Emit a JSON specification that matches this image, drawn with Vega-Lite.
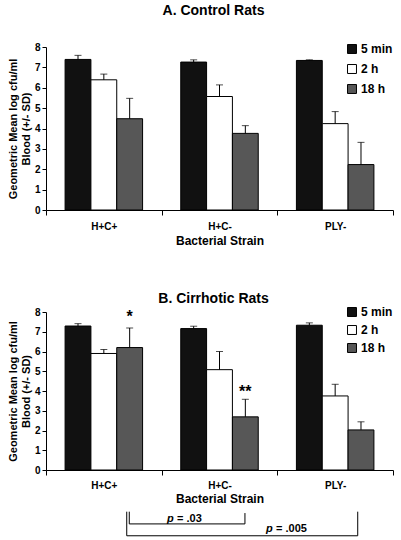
{
  "$schema": "https://vega.github.io/schema/vega-lite/v6.json",
  "padding": {"left": 7, "top": 4, "right": 4, "bottom": 3},
  "config": {
    "font": "Liberation Sans",
    "view": {"stroke": null},
    "axis": {"labelFont": "Liberation Sans", "labelFontWeight": "bold", "labelColor": "black", "titleColor": "black", "domainColor": "black", "tickColor": "black", "grid": false, "titleFont": "Liberation Sans", "titleFontWeight": "bold"},
    "axisY": {"labelOverlap": false, "tickCount": 12, "format": "d", "labelFontSize": 10, "tickSize": 4, "labelPadding": 2, "titleFontSize": 11, "titleLineHeight": 13, "titlePadding": 3},
    "title": {"font": "Liberation Sans", "fontWeight": "bold", "color": "black", "fontSize": 14},
    "legend": {"labelFont": "Liberation Sans", "labelFontWeight": "bold", "labelFontSize": 12, "labelColor": "black", "symbolType": "square", "symbolSize": 80, "symbolStrokeColor": "black", "symbolStrokeWidth": 1, "labelOffset": 3}
  },
  "datasets": {
    "bars": [
      {"panel": "A", "strain": "H+C+", "time": "5 min", "mean": 7.39, "upper": 7.59},
      {"panel": "A", "strain": "H+C+", "time": "2 h", "mean": 6.39, "upper": 6.67},
      {"panel": "A", "strain": "H+C+", "time": "18 h", "mean": 4.48, "upper": 5.48},
      {"panel": "A", "strain": "H+C-", "time": "5 min", "mean": 7.26, "upper": 7.37},
      {"panel": "A", "strain": "H+C-", "time": "2 h", "mean": 5.57, "upper": 6.14},
      {"panel": "A", "strain": "H+C-", "time": "18 h", "mean": 3.76, "upper": 4.14},
      {"panel": "A", "strain": "PLY-", "time": "5 min", "mean": 7.34, "upper": 7.37},
      {"panel": "A", "strain": "PLY-", "time": "2 h", "mean": 4.24, "upper": 4.83},
      {"panel": "A", "strain": "PLY-", "time": "18 h", "mean": 2.23, "upper": 3.32},
      {"panel": "B", "strain": "H+C+", "time": "5 min", "mean": 7.29, "upper": 7.41},
      {"panel": "B", "strain": "H+C+", "time": "2 h", "mean": 5.9, "upper": 6.1},
      {"panel": "B", "strain": "H+C+", "time": "18 h", "mean": 6.2, "upper": 7.19},
      {"panel": "B", "strain": "H+C-", "time": "5 min", "mean": 7.16, "upper": 7.28},
      {"panel": "B", "strain": "H+C-", "time": "2 h", "mean": 5.08, "upper": 6.0},
      {"panel": "B", "strain": "H+C-", "time": "18 h", "mean": 2.69, "upper": 3.58},
      {"panel": "B", "strain": "PLY-", "time": "5 min", "mean": 7.33, "upper": 7.45},
      {"panel": "B", "strain": "PLY-", "time": "2 h", "mean": 3.75, "upper": 4.34},
      {"panel": "B", "strain": "PLY-", "time": "18 h", "mean": 2.03, "upper": 2.44}
    ],
    "stars": [
      {"strain": "H+C+", "time": "18 h", "label": "*", "ypos": 7.49},
      {"strain": "H+C-", "time": "18 h", "label": "**", "ypos": 3.7}
    ],
    "segments": [
      {"x1": 0.72, "y1": -2.11, "x2": 0.72, "y2": -2.73},
      {"x1": 0.72, "y1": -2.73, "x2": 1.72, "y2": -2.73},
      {"x1": 1.72, "y1": -2.18, "x2": 1.72, "y2": -2.73},
      {"x1": 0.698, "y1": -2.11, "x2": 0.698, "y2": -3.33},
      {"x1": 0.698, "y1": -3.33, "x2": 2.695, "y2": -3.33},
      {"x1": 2.695, "y1": -2.11, "x2": 2.695, "y2": -3.33}
    ],
    "pvals": [
      {"x": 1.046, "y": -2.48, "p": "p", "rest": "= .03"},
      {"x": 1.902, "y": -2.99, "p": "p", "rest": "= .005"}
    ]
  },
  "spacing": 46,
  "resolve": {"legend": {"color": "independent"}},
  "vconcat": [
    {
      "title": {"text": "A. Control Rats", "offset": 24, "dx": -6},
      "width": 347,
      "height": 163,
      "data": {"name": "bars"},
      "transform": [{"filter": "datum.panel == 'A'"}],
      "encoding": {
        "x": {"field": "strain", "type": "nominal", "sort": ["H+C+", "H+C-", "PLY-"], "scale": {"paddingInner": 0, "paddingOuter": 0},
          "axis": {"title": "Bacterial Strain", "titleFontSize": 12, "titlePadding": 4, "labelFontSize": 10, "labelAngle": 0, "tickBand": "extent", "tickSize": 5, "labelPadding": 6}},
        "xOffset": {"field": "time", "type": "nominal", "sort": ["5 min", "2 h", "18 h"], "scale": {"paddingInner": 0, "paddingOuter": 0.739}}
      },
      "layer": [
        {
          "mark": {"type": "bar", "stroke": "black", "strokeWidth": 1},
          "encoding": {
            "y": {"field": "mean", "type": "quantitative", "scale": {"domain": [0, 8], "nice": false},
              "axis": {"values": [0, 1, 2, 3, 4, 5, 6, 7, 8], "tickCount": 12, "format": "d", "labelOverlap": false, "title": ["Geometric Mean log cfu/ml", "Blood (+/- SD)"]}},
            "color": {"field": "time", "type": "nominal", "sort": ["5 min", "2 h", "18 h"],
              "scale": {"domain": ["5 min", "2 h", "18 h"], "range": ["#111111", "#ffffff", "#575757"]},
              "legend": {"title": null, "orient": "none", "legendX": 300, "legendY": -4, "rowPadding": 6}}
          }
        },
        {
          "mark": {"type": "rule", "color": "black", "strokeWidth": 1},
          "encoding": {"y": {"field": "mean", "type": "quantitative"}, "y2": {"field": "upper"}}
        },
        {
          "mark": {"type": "tick", "color": "black", "size": 7, "thickness": 1},
          "encoding": {"y": {"field": "upper", "type": "quantitative"}}
        }
      ]
    },
    {
      "title": {"text": "B. Cirrhotic Rats", "offset": 0, "dx": -6},
      "width": 347,
      "height": 158,
      "resolve": {"scale": {"x": "independent", "y": "independent"}, "axis": {"x": "independent", "y": "independent"}},
      "layer": [
        {
          "data": {"name": "bars"},
          "transform": [{"filter": "datum.panel == 'B'"}],
          "encoding": {
            "x": {"field": "strain", "type": "nominal", "sort": ["H+C+", "H+C-", "PLY-"], "scale": {"paddingInner": 0, "paddingOuter": 0},
              "axis": {"title": "Bacterial Strain", "titleFontSize": 12, "titlePadding": 3, "labelFontSize": 10, "labelAngle": 0, "tickBand": "extent", "tickSize": 5, "labelPadding": 5}},
            "xOffset": {"field": "time", "type": "nominal", "sort": ["5 min", "2 h", "18 h"], "scale": {"paddingInner": 0, "paddingOuter": 0.739}}
          },
          "layer": [
            {
              "mark": {"type": "bar", "stroke": "black", "strokeWidth": 1},
              "encoding": {
                "y": {"field": "mean", "type": "quantitative", "scale": {"domain": [0, 8], "nice": false},
                  "axis": {"values": [0, 1, 2, 3, 4, 5, 6, 7, 8], "tickCount": 12, "format": "d", "labelOverlap": false, "title": ["Geometric Mean log cfu/ml", "Blood (+/- SD)"]}},
                "color": {"field": "time", "type": "nominal", "sort": ["5 min", "2 h", "18 h"],
                  "scale": {"domain": ["5 min", "2 h", "18 h"], "range": ["#111111", "#ffffff", "#575757"]},
                  "legend": {"title": null, "orient": "none", "legendX": 300, "legendY": -6, "rowPadding": 4}}
              }
            },
            {
              "mark": {"type": "rule", "color": "black", "strokeWidth": 1},
              "encoding": {"y": {"field": "mean", "type": "quantitative"}, "y2": {"field": "upper"}}
            },
            {
              "mark": {"type": "tick", "color": "black", "size": 7, "thickness": 1},
              "encoding": {"y": {"field": "upper", "type": "quantitative"}}
            },
            {
              "data": {"name": "stars"},
              "mark": {"type": "text", "fontSize": 16, "fontWeight": "bold", "color": "black", "baseline": "alphabetic"},
              "encoding": {"y": {"field": "ypos", "type": "quantitative"}, "text": {"field": "label"}}
            }
          ]
        },
        {
          "data": {"name": "segments"},
          "mark": {"type": "rule", "color": "black", "strokeWidth": 1},
          "encoding": {
            "x": {"field": "x1", "type": "quantitative", "scale": {"domain": [0, 3], "nice": false, "zero": false}, "axis": null},
            "x2": {"field": "x2"},
            "y": {"field": "y1", "type": "quantitative", "scale": {"domain": [0, 8], "nice": false}, "axis": null},
            "y2": {"field": "y2"}
          }
        },
        {
          "data": {"name": "pvals"},
          "layer": [
            {
              "mark": {"type": "text", "fontSize": 11, "fontWeight": "bold", "fontStyle": "italic", "align": "left", "baseline": "middle", "color": "black"},
              "encoding": {"text": {"field": "p"}}
            },
            {
              "mark": {"type": "text", "fontSize": 11, "fontWeight": "bold", "align": "left", "baseline": "middle", "color": "black", "dx": 10},
              "encoding": {"text": {"field": "rest"}}
            }
          ],
          "encoding": {
            "x": {"field": "x", "type": "quantitative", "scale": {"domain": [0, 3], "nice": false, "zero": false}, "axis": null},
            "y": {"field": "y", "type": "quantitative", "scale": {"domain": [0, 8], "nice": false}, "axis": null}
          }
        }
      ]
    }
  ]
}
